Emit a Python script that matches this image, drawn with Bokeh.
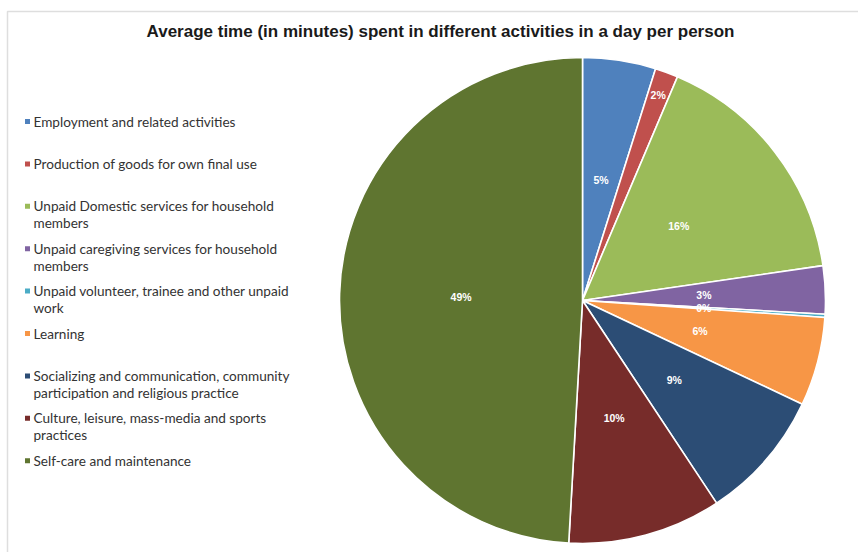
import math
import textwrap
from bokeh.plotting import figure
from bokeh.models import Range1d, ColumnDataSource
from bokeh.embed import file_html
from bokeh.resources import INLINE
from bokeh.core.properties import value

# ---- data ----
title = "Average time (in minutes) spent in different activities in a day per person"
categories = [
    "Employment and related activities",
    "Production of goods for own final use",
    "Unpaid Domestic services for household members",
    "Unpaid caregiving services for household members",
    "Unpaid volunteer, trainee and other unpaid work",
    "Learning",
    "Socializing and communication, community participation and religious practice",
    "Culture, leisure, mass-media and sports practices",
    "Self-care and maintenance",
]
minutes = [70, 22, 235, 46, 3, 85, 125, 147, 707]
colors = ["#4F81BD", "#C0504D", "#9BBB59", "#8064A2", "#4BACC6",
          "#F79646", "#2C4D75", "#772C2A", "#5F7530"]

# ---- layout ----
W, H = 858, 552
p = figure(width=W, height=H, x_range=Range1d(0, W), y_range=Range1d(0, H),
           output_backend="svg", toolbar_location=None, min_border=0)
p.axis.visible = False
p.grid.visible = False
p.outline_line_color = None
p.background_fill_color = "white"
p.border_fill_color = "white"

# chart frame border (top and left visible)
p.quad(left=[7], right=[W + 20], top=[H - 11], bottom=[-20],
       fill_color=None, line_color="#dedede", line_width=1.5)

total = float(sum(minutes))
fracs = [m / total for m in minutes]
cum_start, cum_end = [], []
c = 0.0
for f in fracs:
    cum_start.append(c)
    c += f
    cum_end.append(c)

cx, cy, R = 582, H - 300, 243
start_ang = [math.pi / 2 - 2 * math.pi * e for e in cum_end]
end_ang = [math.pi / 2 - 2 * math.pi * s for s in cum_start]

src = ColumnDataSource(dict(x=[cx] * len(minutes), y=[cy] * len(minutes),
                            start=start_ang, end=end_ang, color=colors))
p.wedge(x="x", y="y", radius=R, start_angle="start", end_angle="end",
        fill_color="color", line_color="white", line_width=1.6, source=src)

# slice labels
lx, ly, lt = [], [], []
for i, f in enumerate(fracs):
    mid = math.pi / 2 - 2 * math.pi * (cum_start[i] + cum_end[i]) / 2
    rr = 0.9 if categories[i].startswith("Production") else 0.5
    lx.append(cx + rr * R * math.cos(mid))
    ly.append(cy + rr * R * math.sin(mid))
    lt.append(f"{round(f * 100)}%")
p.text(x=lx, y=ly, text=lt, text_color="white", text_font=value("Liberation Sans"),
       text_font_size="10.5px", text_font_style="bold",
       text_align="center", text_baseline="middle")

# title
p.text(x=[440], y=[H - 31], text=[title], text_color="#1a1a1a",
       text_font=value("Liberation Sans"), text_font_size="17px",
       text_font_style="bold", text_align="center", text_baseline="middle")

# legend
mx, my, mc = [], [], []
tx, ty, tt = [], [], []
for i, name in enumerate(categories):
    y0 = H - (121 + i * 42.4)
    mx.append(27)
    my.append(y0)
    mc.append(colors[i])
    for j, line in enumerate(textwrap.wrap(name, 42, break_on_hyphens=False)):
        tx.append(33)
        ty.append(y0 - j * 17)
        tt.append(line)
p.rect(x=mx, y=my, width=5, height=5, fill_color=mc, line_color=None)
p.text(x=tx, y=ty, text=tt, text_color="#333333", text_font=value("Lato"),
       text_font_size="13.6px", text_align="left", text_baseline="middle")

open("out.html", "w").write(file_html(p, INLINE))
